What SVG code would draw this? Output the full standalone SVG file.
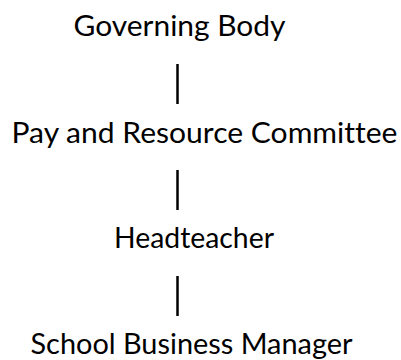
<svg xmlns="http://www.w3.org/2000/svg" width="401" height="360" viewBox="0 0 401 360">
  <style>
    .label { font-family: "Lato", "Open Sans", "Liberation Sans", sans-serif; font-size: 29px; fill: #000; font-variant-ligatures: none; font-feature-settings: "liga" 0, "clig" 0; }
    .link { stroke: #000; stroke-width: 2.5; }
  </style>
  <rect width="401" height="360" fill="#fff"/>
  <g id="connectors">
    <line class="link" x1="177.5" y1="64" x2="177.5" y2="104"/>
    <line class="link" x1="177.5" y1="170" x2="177.5" y2="210"/>
    <line class="link" x1="177.5" y1="276" x2="177.5" y2="316"/>
  </g>
  <g id="governing-body">
    <text class="label" x="73.5" y="35.7" textLength="212" lengthAdjust="spacingAndGlyphs">Governing Body</text>
  </g>
  <g id="pay-resource-committee">
    <text class="label" x="11.5" y="143.3" textLength="386" lengthAdjust="spacingAndGlyphs">Pay and Resource Committee</text>
  </g>
  <g id="headteacher">
    <text class="label" x="114" y="248.3" textLength="160" lengthAdjust="spacingAndGlyphs">Headteacher</text>
  </g>
  <g id="school-business-manager">
    <text class="label" x="30.5" y="354.3" textLength="322" lengthAdjust="spacingAndGlyphs">School Business Manager</text>
  </g>
</svg>
